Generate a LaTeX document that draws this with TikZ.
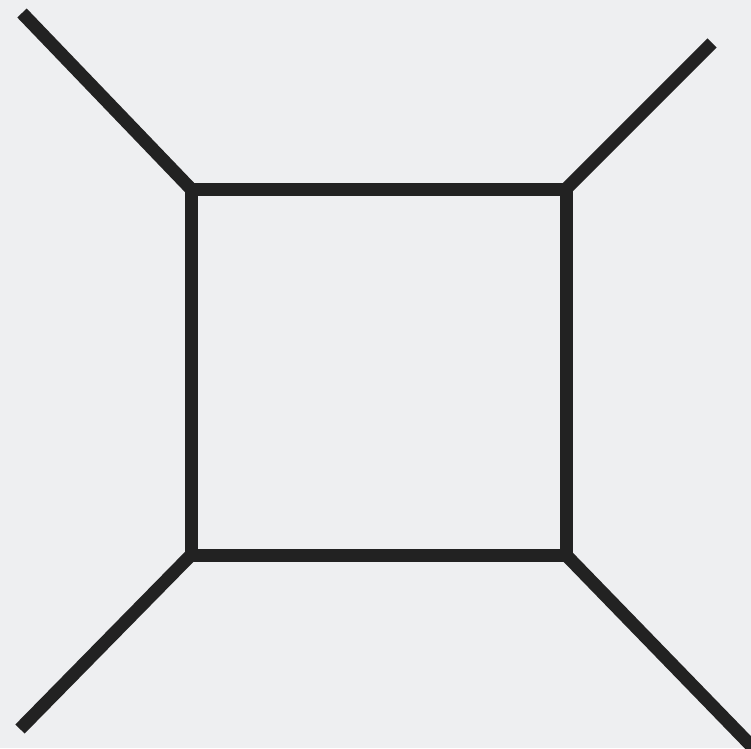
\documentclass[tikz,border=0pt]{standalone}
\usepackage{tikz}
\usepackage{xcolor}
\definecolor{bg}{RGB}{238,239,241}
\definecolor{ink}{RGB}{34,34,34}

\begin{document}
\begin{tikzpicture}[x=1pt, y=-1pt,
    prop/.style={draw=ink, line width=13pt, line join=miter},
    leg/.style={draw=ink, line width=13pt, line cap=butt}]

    % canvas
    \fill[bg] (0,0) rectangle (751,748);
    \clip (0,0) rectangle (751,748);

    % loop corners
    \coordinate (tl) at (191,189);
    \coordinate (tr) at (566,189);
    \coordinate (br) at (566,555);
    \coordinate (bl) at (191,555);

    % external ends
    \coordinate (etl) at (22,13);
    \coordinate (etr) at (712,43);
    \coordinate (ebl) at (20,729);
    \coordinate (ebr) at (768,763);

    % box
    \draw[prop] (tl) -- (tr) -- (br) -- (bl) -- cycle;

    % legs
    \draw[leg] (etl) -- (tl);
    \draw[leg] (etr) -- (tr);
    \draw[leg] (ebl) -- (bl);
    \draw[leg] (ebr) -- (br);
\end{tikzpicture}
\end{document}
